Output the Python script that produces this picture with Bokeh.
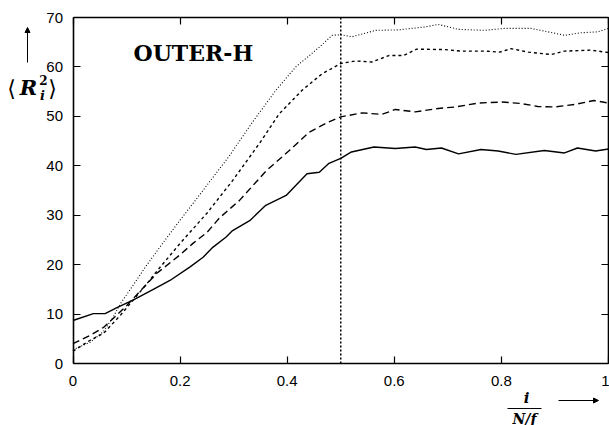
from bokeh.plotting import figure
from bokeh.models import (Range1d, LinearAxis, FixedTicker, Label, Arrow, NormalHead)
from bokeh.embed import file_html
from bokeh.resources import INLINE

# ---- data ----
solid_x = [0, 0.038, 0.06, 0.082, 0.112, 0.15, 0.181, 0.218, 0.243, 0.261, 0.286, 0.298, 0.33, 0.36,
           0.398, 0.437, 0.46, 0.478, 0.5, 0.52, 0.562, 0.602, 0.639, 0.66, 0.688, 0.72, 0.762, 0.794,
           0.827, 0.88, 0.918, 0.942, 0.976, 1.0]
solid_y = [8.7, 10.1, 10.1, 11.3, 12.8, 15.0, 16.8, 19.5, 21.5, 23.5, 25.6, 26.9, 28.9, 32.0,
           34.0, 38.4, 38.7, 40.5, 41.5, 42.8, 43.8, 43.5, 43.8, 43.3, 43.6, 42.4, 43.3, 43.0,
           42.3, 43.1, 42.6, 43.6, 43.0, 43.4]

ldash_x = [0, 0.032, 0.057, 0.075, 0.1, 0.125, 0.156, 0.2, 0.224, 0.25, 0.274, 0.311, 0.361, 0.404,
           0.441, 0.478, 0.5, 0.54, 0.577, 0.602, 0.639, 0.682, 0.714, 0.757, 0.8, 0.837, 0.868,
           0.899, 0.936, 0.973, 1.0]
ldash_y = [4.0, 5.7, 7.3, 9.1, 11.7, 14.6, 18.2, 22.0, 24.3, 26.5, 29.5, 33.0, 39.0, 43.1,
           46.8, 48.9, 49.9, 50.7, 50.4, 51.4, 50.9, 51.6, 51.9, 52.7, 52.9, 52.6, 52.0,
           51.9, 52.4, 53.2, 52.7]

sdash_x = [0, 0.032, 0.057, 0.088, 0.112, 0.137, 0.156, 0.2, 0.25, 0.298, 0.348, 0.385, 0.428,
           0.465, 0.5, 0.527, 0.558, 0.59, 0.617, 0.642, 0.695, 0.725, 0.77, 0.797, 0.818, 0.85,
           0.893, 0.918, 0.967, 1.0]
sdash_y = [2.5, 4.7, 6.1, 9.7, 12.8, 16.0, 18.6, 24.3, 30.4, 37.0, 44.5, 50.5, 55.3,
           58.6, 60.7, 61.2, 61.0, 62.3, 62.3, 63.6, 63.5, 63.2, 63.2, 63.0, 63.7, 63.0,
           62.5, 63.2, 63.4, 62.9]

dot_x = [0, 0.032, 0.057, 0.075, 0.088, 0.112, 0.137, 0.168, 0.2, 0.237, 0.292, 0.335, 0.379,
         0.416, 0.46, 0.484, 0.5, 0.521, 0.565, 0.608, 0.658, 0.682, 0.72, 0.769, 0.806, 0.855,
         0.887, 0.918, 0.948, 0.98, 1.0]
dot_y = [2.8, 4.3, 6.5, 9.4, 12.0, 15.8, 19.8, 24.4, 29.0, 34.2, 42.0, 48.8, 55.3,
         60.0, 64.0, 66.4, 66.5, 66.1, 67.4, 67.5, 68.1, 68.6, 67.6, 67.4, 67.8, 67.8,
         67.1, 66.4, 66.9, 67.1, 67.8]

vline_x = 0.5
x_ticks = [0, 0.2, 0.4, 0.6, 0.8, 1.0]
x_tick_labels = ["0", "0.2", "0.4", "0.6", "0.8", "1"]
y_ticks = [0, 10, 20, 30, 40, 50, 60, 70]
y_tick_labels = ["0", "10", "20", "30", "40", "50", "60", "70"]
title_text = "OUTER-H"

# ---- layout: the frame fills the whole canvas; axes sit at fixed data locations ----
W, H = 609, 425
X0PX, X1PX = 72.5, 608.0     # canvas px of x=0 and x=1
Y0PX, Y70PX = 363.0, 17.0    # canvas px of y=0 and y=70
PXX = (X1PX - X0PX) / 1.0
PXY = (Y0PX - Y70PX) / 70.0

def dx(px):
    return (px - X0PX) / PXX
def dy(py):
    return (Y0PX - py) / PXY

p = figure(width=W, height=H, output_backend="svg", toolbar_location=None,
           x_range=Range1d(dx(0), dx(W)), y_range=Range1d(dy(H), dy(0)),
           min_border=0, x_axis_location=None, y_axis_location=None)
p.grid.visible = False
p.outline_line_color = None
p.background_fill_color = "white"
p.border_fill_color = "white"

TICKFONT = "Liberation Sans"

def mk_axis(ticks, labels, show, loc, bounds):
    ax = LinearAxis(ticker=FixedTicker(ticks=ticks), fixed_location=loc, bounds=bounds)
    ax.major_tick_in = 7
    ax.major_tick_out = 0
    ax.minor_tick_in = 0
    ax.minor_tick_out = 0
    ax.axis_line_color = "black"
    ax.axis_line_width = 1.6
    ax.major_tick_line_color = "black"
    ax.major_tick_line_width = 1.2
    ax.major_label_text_font = TICKFONT
    ax.major_label_text_color = "black"
    ax.major_label_overrides = {t: l for t, l in zip(ticks, labels)}
    if show:
        ax.major_label_text_font_size = "15px"
    else:
        ax.major_label_text_alpha = 0
        ax.major_label_text_font_size = "1px"
    return ax

bx = mk_axis(x_ticks, x_tick_labels, True, 0, (0, 1))
bx.major_label_standoff = 12
lx = mk_axis(y_ticks, y_tick_labels, True, 0, (0, 70))
lx.major_label_standoff = 10
tx = mk_axis(x_ticks, x_tick_labels, False, 70, (0, 1))
rx = mk_axis(y_ticks, y_tick_labels, False, 1.0, (0, 70))
p.add_layout(bx, "below")
p.add_layout(lx, "left")
p.add_layout(tx, "above")
p.add_layout(rx, "right")

# ---- curves ----
p.line(solid_x, solid_y, line_color="black", line_width=1.4)
p.line(ldash_x, ldash_y, line_color="black", line_width=1.4, line_dash="7 4")
p.line(sdash_x, sdash_y, line_color="black", line_width=1.4, line_dash="3 3")
p.line(dot_x, dot_y, line_color="black", line_width=1.1, line_dash="1 2")
p.line([vline_x, vline_x], [0, 70], line_color="black", line_width=1.5, line_dash="2 2")

SERIF = "DejaVu Serif"

p.add_layout(Label(x=dx(133), y=dy(52), text=title_text, text_font=SERIF,
                   text_font_style="bold", text_font_size="22px", text_color="black",
                   text_baseline="alphabetic", text_align="left"))

# y-axis label  <R_i^2>
p.add_layout(Label(x=dx(11), y=dy(88), text="\u27e8", text_font=SERIF, text_font_size="22px",
                   text_align="center", text_baseline="middle", text_color="black"))
p.add_layout(Label(x=dx(28), y=dy(87), text="R", text_font=SERIF, text_font_style="bold italic",
                   text_font_size="21px", text_align="center", text_baseline="middle", text_color="black"))
p.add_layout(Label(x=dx(43), y=dy(79), text="2", text_font=SERIF, text_font_style="bold",
                   text_font_size="12px", text_align="center", text_baseline="middle", text_color="black"))
p.add_layout(Label(x=dx(42), y=dy(95), text="i", text_font=SERIF, text_font_style="bold italic",
                   text_font_size="13px", text_align="center", text_baseline="middle", text_color="black"))
p.add_layout(Label(x=dx(52), y=dy(88), text="\u27e9", text_font=SERIF, text_font_size="22px",
                   text_align="center", text_baseline="middle", text_color="black"))
p.add_layout(Arrow(x_start=dx(27), y_start=dy(62), x_end=dx(27), y_end=dy(27),
                   line_color="black", line_width=1,
                   end=NormalHead(size=5, fill_color="black", line_color="black")))

# x-axis label  i/(N/f)
p.add_layout(Label(x=dx(526), y=dy(397), text="i", text_font=SERIF, text_font_style="bold italic",
                   text_font_size="15px", text_align="center", text_baseline="middle", text_color="black"))
p.add_layout(Arrow(x_start=dx(507), y_start=dy(408), x_end=dx(541), y_end=dy(408),
                   line_color="black", line_width=1.2, end=None))
p.add_layout(Label(x=dx(524), y=dy(410), text="N/f", text_font=SERIF, text_font_style="bold italic",
                   text_font_size="14px", text_align="center", text_baseline="top", text_color="black"))
p.add_layout(Arrow(x_start=dx(558), y_start=dy(400), x_end=dx(598), y_end=dy(400),
                   line_color="black", line_width=1,
                   end=NormalHead(size=5, fill_color="black", line_color="black")))

open("out.html", "w").write(file_html(p, INLINE))
